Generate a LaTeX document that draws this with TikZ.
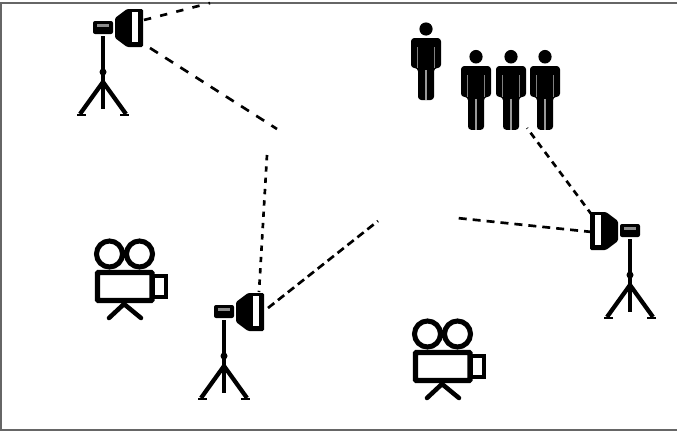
\documentclass[tikz,border=0pt]{standalone}
\tikzset{
 x=0.75pt,y=-0.75pt,
 frameline/.style={draw=black!60,line width=1.1pt},
 beam/.style={line width=2pt,dash pattern=on 7pt off 6.5pt,black},
 beamb/.style={line width=2pt,dash pattern=on 4pt off 4.5pt,black},
 lightrig/.pic={
  \fill[rounded corners=1.5] (-10,-7) rectangle (10,6);
  \fill[black!45] (-6,-4) rectangle (6,-1);
  \fill[rounded corners=1] (12,-10) -- (24,-19) -- (40,-19) -- (40,19) -- (24,19) -- (12,10) -- cycle;
  \fill[white] (29,-16) rectangle (35,14);
  \draw[line width=3pt] (0,8) -- (0,70);
  \fill (0,44) circle (3.5);
  \draw[line width=3.2pt] (0,54) -- (-23,86) (0,54) -- (23,86);
  \draw[line width=2.8pt] (0,54) -- (0,81);
  \draw[line width=2pt] (-26,87) -- (-17,87) (17,87) -- (26,87);
 },
 movicam/.pic={
  \draw[line width=3.8pt] (109.5,254) circle (13) (139.5,254) circle (13);
  \draw[line width=3.8pt,fill=white,rounded corners=.6] (97.5,272.5) rectangle (152,300.5);
  \draw[line width=3.4pt,fill=white] (153,276) rectangle (166,297);
  \draw[line width=3.4pt,line cap=round] (109,318) -- (124,304) -- (141,318);
 },
 person/.pic={
  \fill (0,-9) circle (6.6);
  \fill[rounded corners=2.5] (-15,0) -- (15,0) -- (15,30) -- (8,30) -- (8,62) -- (-8,62) -- (-8,30) -- (-15,30) -- cycle;
  \draw[black!50,line width=1pt] (-8.8,9) -- (-8.8,30) (8.8,9) -- (8.8,30);
  \draw[black!40,line width=.9pt] (0,32) -- (0,62);
 }
}
\begin{document}
\begin{tikzpicture}
\useasboundingbox (0,0) rectangle (678,432);
\fill[white] (0,0) rectangle (678,432);
\draw[frameline] (677,3) -- (1,3) -- (1,430) -- (677,430);

\coordinate (a1) at (144,20); \coordinate (a2) at (210,3);
\coordinate (b1) at (150,48); \coordinate (b2) at (277,129);
\coordinate (c1) at (267,155); \coordinate (c2) at (259,292);
\coordinate (d1) at (268,308); \coordinate (d2) at (378,221);
\coordinate (e1) at (592,232); \coordinate (e2) at (457,218);
\coordinate (f1) at (592,215); \coordinate (f2) at (527,128);
\draw[beamb,dash pattern=on 5.5pt off 7pt] (a1) -- (a2);
\draw[beam] (b1) -- (b2);
\draw[beamb] (c1) -- (c2);
\draw[beamb,dash pattern=on 6pt off 3.5pt] (d1) -- (d2);
\draw[beamb,dash pattern=on 6pt off 4.5pt] (e1) -- (e2);
\draw[beamb,dash pattern=on 5pt off 4pt] (f1) -- (f2);

\pic at (103,28) {lightrig};
\pic at (224,312) {lightrig};
\pic[xscale=-1] at (630,231) {lightrig};

\pic at (0,0) {movicam};
\pic at (318,80) {movicam};

\pic at (426,38) {person};
\pic[yscale=1.03] at (476,66) {person};
\pic[yscale=1.03] at (511,66) {person};
\pic[yscale=1.03] at (545,66) {person};
\end{tikzpicture}
\end{document}
